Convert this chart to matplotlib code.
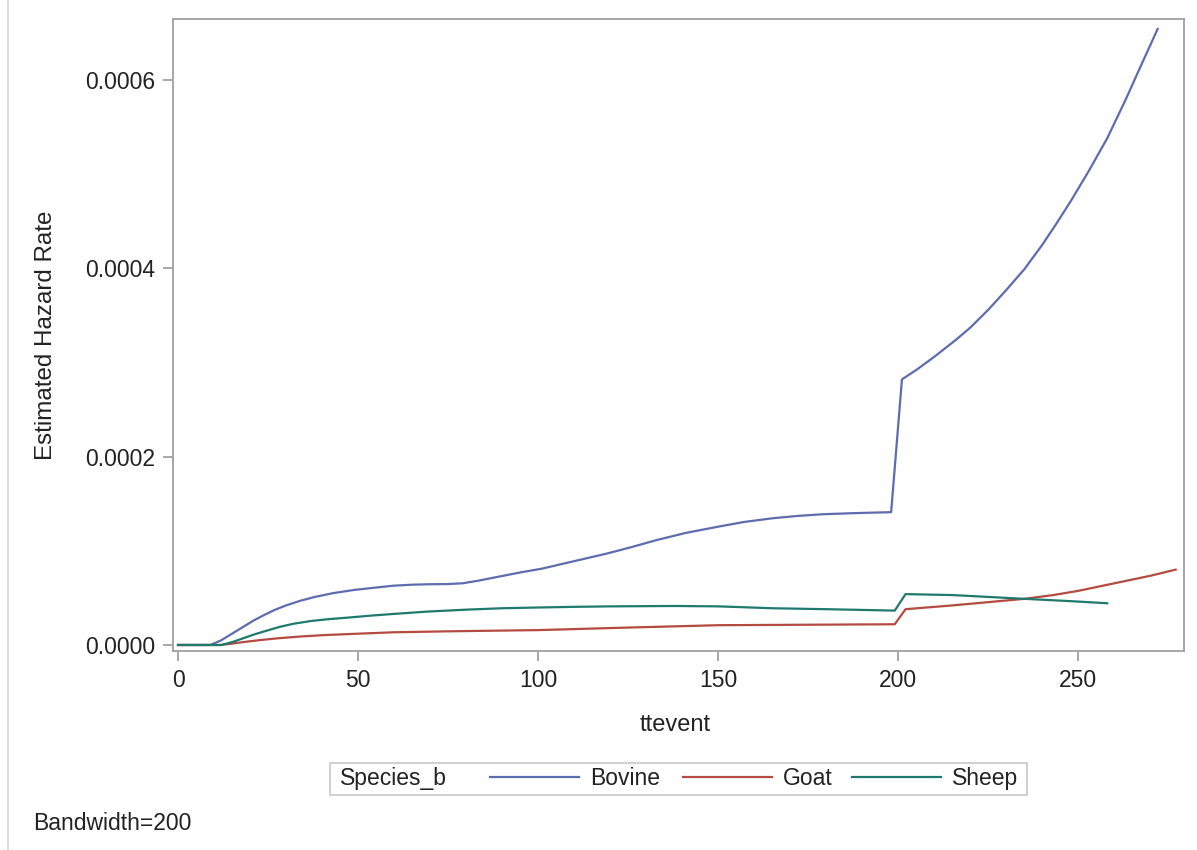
import matplotlib
matplotlib.use("Agg")
import matplotlib.pyplot as plt
from matplotlib.patches import Rectangle
from matplotlib.lines import Line2D
from matplotlib.ticker import FormatStrFormatter

# Kernel-smoothed hazard estimates by species (rates in units of 1e-4)
bovine_t = [0, 9, 12, 15, 18, 21, 24, 27, 30, 34, 38, 43, 49, 55, 60, 65,
            70, 75, 79, 83, 87, 91, 95, 101, 110, 119, 126, 133, 141, 150,
            157, 165, 172, 179, 188, 198, 201, 205, 210, 216, 220, 225, 230,
            235, 240, 244, 248, 253, 258, 263, 267, 272]
bovine_h = [0, 0, 0.05, 0.12, 0.19, 0.26, 0.32, 0.375, 0.42, 0.47, 0.51,
            0.55, 0.585, 0.61, 0.63, 0.64, 0.645, 0.647, 0.655, 0.68, 0.71,
            0.74, 0.77, 0.81, 0.89, 0.97, 1.04, 1.115, 1.19, 1.256, 1.305,
            1.345, 1.37, 1.388, 1.40, 1.41, 2.82, 2.92, 3.06, 3.24, 3.37,
            3.56, 3.77, 3.99, 4.25, 4.48, 4.72, 5.04, 5.38, 5.78, 6.12, 6.54]

goat_t = [0, 12, 15, 19, 23, 28, 34, 41, 50, 60, 75, 88, 100, 125, 150, 175,
          199, 202, 215, 225, 235, 243, 250, 260, 270, 277]
goat_h = [0, 0, 0.015, 0.035, 0.053, 0.072, 0.09, 0.106, 0.12, 0.135, 0.145,
          0.152, 0.158, 0.185, 0.21, 0.215, 0.22, 0.38, 0.42, 0.455, 0.49,
          0.53, 0.575, 0.655, 0.735, 0.80]

sheep_t = [0, 12, 15, 18, 21, 24, 28, 32, 37, 42, 47, 53, 60, 69, 80, 90,
           100, 110, 120, 138, 150, 165, 180, 199, 202, 215, 235, 248, 258]
sheep_h = [0, 0, 0.03, 0.07, 0.11, 0.145, 0.19, 0.225, 0.255, 0.275, 0.29,
           0.31, 0.33, 0.354, 0.375, 0.39, 0.398, 0.405, 0.41, 0.414, 0.41,
           0.39, 0.38, 0.365, 0.54, 0.53, 0.49, 0.465, 0.443]

species = ["Bovine", "Goat", "Sheep"]
series = [(bovine_t, bovine_h), (goat_t, goat_h), (sheep_t, sheep_h)]
colors = ["#5d6cae", "#b44a40", "#1f7a6e"]

x_ticks = [0, 50, 100, 150, 200, 250]
y_ticks = [0.0, 0.0002, 0.0004, 0.0006]

plt.rcParams["font.family"] = ["Liberation Sans", "DejaVu Sans"]
TEXT = "#222222"
GRID = "#a0a0a0"
FS = 16.5

fig = plt.figure(figsize=(11.97, 8.5), dpi=100)
ax = fig.add_axes([0.1445, 0.2341, 0.8446, 0.7435])

handles = []
for name, (t, h), c in zip(species, series, colors):
    ln, = ax.plot(t, [v * 1e-4 for v in h], color=c, lw=1.6, label=name,
                  solid_joinstyle="round")
    handles.append(ln)

ax.set_xlim(-1.4, 279.3)
ax.set_ylim(-0.0000064, 0.0006645)
ax.set_xticks(x_ticks)
ax.set_yticks(y_ticks)
ax.yaxis.set_major_formatter(FormatStrFormatter("%.4f"))

for s in ax.spines.values():
    s.set_color(GRID)
    s.set_linewidth(1.3)
ax.tick_params(direction="out", length=7, width=1.3, color=GRID,
               labelsize=FS, labelcolor=TEXT, pad=6)

ax.set_xlabel("ttevent", fontsize=17, color=TEXT)
ax.set_ylabel("Estimated Hazard Rate", fontsize=17.4, color=TEXT)
ax.xaxis.set_label_coords(0.497, -0.100)
ax.yaxis.set_label_coords(-0.115, 0.5)

# Legend frame with group label on the left and one entry per species
W, H = 1197.0, 850.0
fig.patches.append(Rectangle((330 / W, 1 - 795 / H), (1027 - 330) / W,
                             32 / H, transform=fig.transFigure,
                             facecolor="white", edgecolor="#c8c8c8", lw=1.2))
fig.text(340 / W, 1 - 779 / H, "Species_b", fontsize=FS, color=TEXT,
         ha="left", va="center")
entry_x = [490, 683, 852]
for hnd, name, ex in zip(handles, species, entry_x):
    leg = fig.legend(handles=[hnd], labels=[name], loc="upper left",
                     bbox_to_anchor=(ex / W, 1 - 767 / H), frameon=False,
                     fontsize=FS, handlelength=3.9, handletextpad=0.45,
                     borderpad=0, borderaxespad=0)
    for txt in leg.get_texts():
        txt.set_color(TEXT)

fig.text(33 / W, 1 - 823 / H, "Bandwidth=200", fontsize=FS, color=TEXT,
         ha="left", va="center")

# Thin page rule along the left margin
fig.add_artist(Line2D([7.5 / W, 7.5 / W], [0, 1], transform=fig.transFigure,
                      color="#dcdfe8", lw=1.5))

fig.savefig("out.png", dpi=100, facecolor="white")
